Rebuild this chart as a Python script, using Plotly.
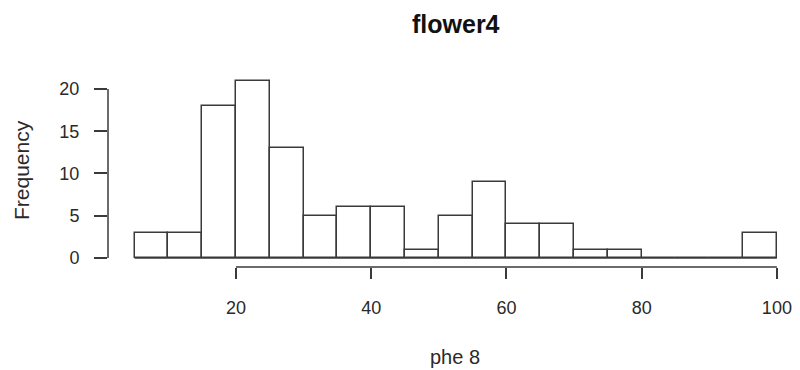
import plotly.graph_objects as go

bin_edges = [5, 10, 15, 20, 25, 30, 35, 40, 45, 50, 55, 60, 65, 70, 75, 80, 85, 90, 95, 100]
counts = [3, 3, 18, 21, 13, 5, 6, 6, 1, 5, 9, 4, 4, 1, 1, 0, 0, 0, 3]
x_ticks = [20, 40, 60, 80, 100]
y_ticks = [0, 5, 10, 15, 20]
title = "flower4"
x_label = "phe 8"
y_label = "Frequency"

centers = [(a + b) / 2 for a, b in zip(bin_edges[:-1], bin_edges[1:])]
widths = [b - a for a, b in zip(bin_edges[:-1], bin_edges[1:])]

font = "Liberation Sans, Arial, Helvetica, sans-serif"
ink = "#3a3a3a"
txt = "#2a2a2a"
OFF = 8  # page body margin
W, H = 800 - OFF, 370 - OFF
L, R, T, B = 108 - OFF, 15, 78 - OFF, 103
PW, PH = W - L - R, H - T - B


def px_x(px):
    return (px - OFF - L) / PW


def px_y(py):
    return 1 - (py - OFF - T) / PH


fig = go.Figure()
fig.add_trace(go.Scatter(x=[bin_edges[0], bin_edges[-1]], y=[0, 0], mode="lines",
                         line=dict(color=ink, width=1.5), hoverinfo="skip", showlegend=False))
fig.add_trace(go.Bar(x=centers, y=counts, width=widths,
                     marker=dict(color="white", line=dict(color=ink, width=1.5)),
                     showlegend=False))

fig.update_layout(
    width=W, height=H,
    margin=dict(l=L, r=R, t=T, b=B),
    paper_bgcolor="white", plot_bgcolor="white",
    font=dict(family=font, color=txt),
    bargap=0,
    xaxis=dict(range=[1.07, 101.2], showgrid=False, zeroline=False, showline=False,
               automargin=False,
               tickmode="array", tickvals=x_ticks, ticks="outside", ticklen=11,
               tickwidth=1.5, tickcolor=ink, tickfont=dict(size=18, color=txt),
               ticklabelstandoff=13),
    yaxis=dict(range=[-1.07, 21.3], showgrid=False, zeroline=False, showline=False,
               automargin=False,
               tickmode="array", tickvals=y_ticks, ticks="outside", ticklen=13,
               tickwidth=1.5, tickcolor=ink, tickfont=dict(size=18, color=txt),
               ticklabelstandoff=11),
)

fig.add_shape(type="line", xref="x", yref="paper", x0=x_ticks[0], x1=x_ticks[-1], y0=0, y1=0,
              line=dict(color=ink, width=1.5))
fig.add_shape(type="line", xref="paper", yref="y", x0=0, x1=0, y0=y_ticks[0], y1=y_ticks[-1],
              line=dict(color=ink, width=1.5))

fig.add_annotation(text="<b>" + title + "</b>", xref="paper", yref="paper",
                   x=px_x(456), y=px_y(24),
                   xanchor="center", yanchor="middle", showarrow=False,
                   font=dict(size=25, color="#111111"))
fig.add_annotation(text=x_label, xref="paper", yref="paper",
                   x=px_x(455), y=px_y(357),
                   xanchor="center", yanchor="middle", showarrow=False,
                   font=dict(size=20, color=txt))
fig.add_annotation(text=y_label, xref="paper", yref="paper", textangle=-90,
                   x=px_x(21), y=px_y(170),
                   xanchor="center", yanchor="middle", showarrow=False,
                   font=dict(size=21, color=txt))

fig.write_html("out.html")
